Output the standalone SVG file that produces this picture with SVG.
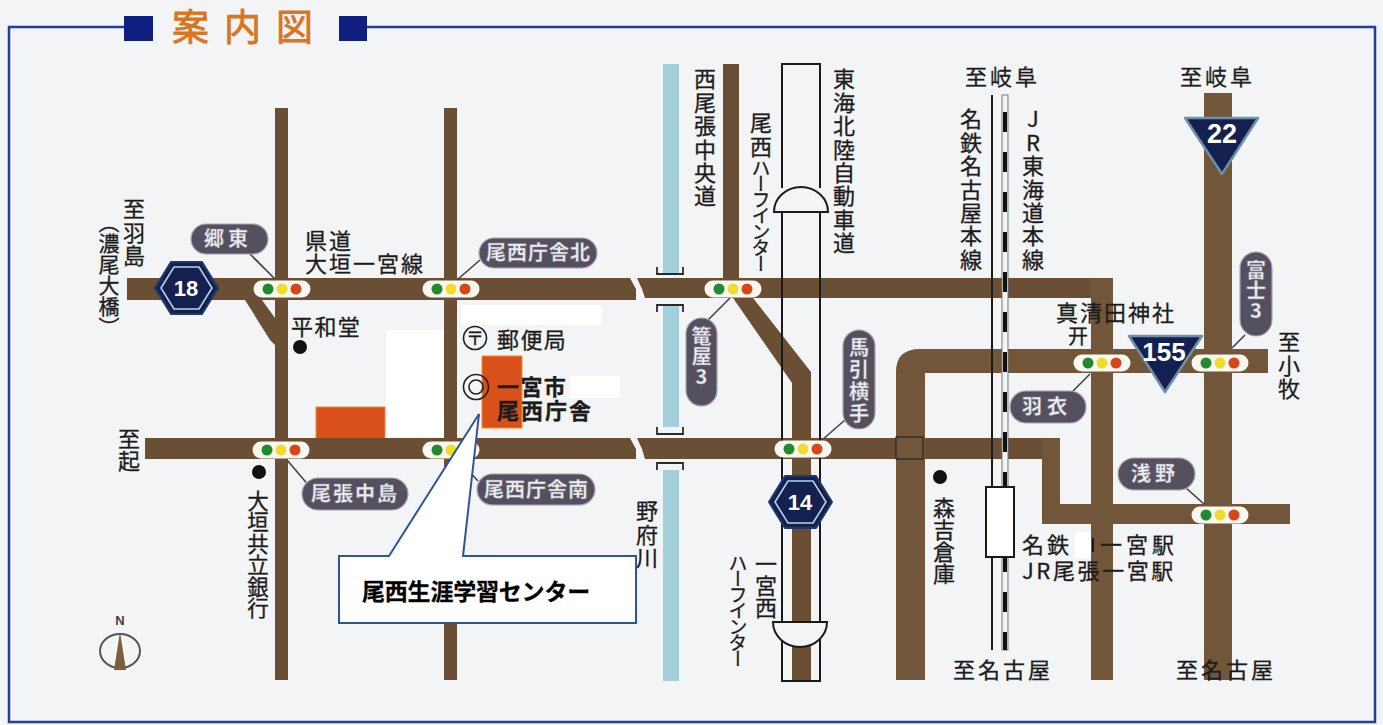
<svg xmlns="http://www.w3.org/2000/svg" width="1383" height="725" viewBox="0 0 1383 725">
<style>
text{font-family:"Noto Sans CJK JP","Noto Sans",sans-serif;fill:#1c1c1c;font-size:22px;stroke:#1c1c1c;stroke-width:.3px}
.v{writing-mode:vertical-rl;text-orientation:mixed}
.u{text-orientation:upright}
.s2{letter-spacing:1.4px}
.road{fill:#6b4f34}
.road2{fill:#725639}
.ll{stroke:#45404a;stroke-width:1.6;fill:none}
.bg{fill:#f3f4f6}
.wh{fill:#fff}
.pill{fill:#fbf8f0}
.g{fill:#1f8a2f}.y{fill:#efdc2c}.r{fill:#d8441c}
.tag{fill:#55505f;stroke:#a9a8ae;stroke-width:1.2}
text.tt{fill:#eeeef2;font-weight:700;font-size:20px;stroke:#8a8792;stroke-width:.4px}
.ex{fill:none;stroke:#1a1a1a;stroke-width:2}
.sh{fill:#14204f;stroke:#6f8fa8;stroke-width:2.5;stroke-linejoin:round}
.hx{fill:#14204f;stroke:#1d3a6a;stroke-width:2;stroke-linejoin:round}
.shin{fill:none;stroke:#b9d2e6;stroke-width:1.6}
text.num{font-family:"Liberation Sans",sans-serif;fill:#fff;stroke:none;font-weight:700;text-anchor:middle}
.fr{fill:none;stroke:#1f3f9a;stroke-width:2.5}
.or{fill:#d9501a;stroke:#e8912f;stroke-width:1}
.bm{fill:none;stroke:#2a2a2a;stroke-width:1.8}
</style>
<defs>
<g id="sig"><rect x="-28.5" y="-8.5" width="57" height="17" rx="8.5" class="pill"/><circle cx="-14" r="5.5" class="g"/><circle r="5.5" class="y"/><circle cx="14" r="5.5" class="r"/></g>
</defs>
<rect width="1383" height="725" class="bg"/>
<g id="frame">
<path class="fr" d="M124 27H9V722H1375V27H367"/>
<rect x="124" y="16" width="29" height="25" fill="#0f1f80"/>
<rect x="339" y="16" width="28" height="25" fill="#0f1f80"/>
<text x="172" y="41" style="font-size:37px;letter-spacing:15px;fill:#d9741f;stroke:#d9741f;stroke-width:.8px">案内図</text>
</g>
<g id="patches">
<rect x="461" y="305" width="141" height="20" class="wh"/>
<rect x="386" y="330" width="58" height="107" class="wh"/>
<rect x="570" y="376" width="50" height="22" class="wh"/>
</g>
<g id="buildings">
<rect x="316" y="407" width="69" height="32" class="or"/>
<rect x="482" y="356" width="40" height="72" class="or"/>
</g>
<g id="river">
<rect x="663" y="64" width="16" height="211" fill="#a3cfdc"/>
<rect x="663" y="304" width="16" height="123" fill="#a3cfdc"/>
<rect x="663" y="470" width="16" height="211" fill="#a3cfdc"/>
<path class="bm" d="M657 267v7h26v-7M657 312v-7h26v7M657 427v7h26v-7M657 470v-7h26v7"/>
</g>
<g id="roads">
<rect x="275" y="108" width="13" height="572" class="road"/>
<rect x="444" y="108" width="13" height="572" class="road"/>
<path class="road" d="M127 278H630L636 289V300H127Z"/>
<path class="road" d="M145 438H630L636 449V459H145Z"/>
<path class="road" d="M245 300H262L275 318V345L270 340Z"/>
<rect x="723" y="64" width="16" height="214" class="road"/>
<path class="road" d="M637 278H1113V298H645L642 289Z"/>
<path class="road" d="M733 298H753L811 372V681H792V383Z"/>
<path class="road" d="M637 438H1060V459H645L642 449Z"/>
<rect x="1091" y="278" width="22" height="402" class="road2"/>
<path class="road2" d="M896 680V372Q896 349 920 349H1268V373H925V680Z"/>
<rect x="1204" y="93" width="28" height="587" class="road2"/>
<path class="road2" d="M1042 438H1060V504H1290V524H1042Z"/>
<rect x="896" y="437" width="27" height="22" fill="none" stroke="#1a1a1a" stroke-width="1"/>
</g>
<g id="expressway">
<path class="ex" d="M782 212V681H820V212M782 188V64H820V188"/>
<path d="M774 212A27 25 0 0 1 828 212Z" fill="#f3f4f6" stroke="#1a1a1a" stroke-width="2"/>
<path d="M773 622H827A27 25 0 0 1 773 622Z" fill="#f3f4f6" stroke="#1a1a1a" stroke-width="2"/>
</g>
<g id="railway">
<line x1="992" y1="95" x2="992" y2="650" stroke="#1a1a1a" stroke-width="2"/>
<rect x="1002" y="95" width="6" height="555" fill="#f4f4f4" stroke="#777" stroke-width="1"/>
<line x1="1005" y1="112" x2="1005" y2="650" stroke="#111" stroke-width="4" stroke-dasharray="20 20"/>
<rect x="986" y="487" width="28" height="70" fill="#fff" stroke="#1a1a1a" stroke-width="2"/>
</g>
<g id="connectors">
<line class="ll" x1="250" y1="254" x2="275" y2="279"/>
<line class="ll" x1="480" y1="260" x2="457" y2="280"/>
<line class="ll" x1="708" y1="320" x2="730" y2="298"/>
<line class="ll" x1="845" y1="420" x2="822" y2="440"/>
<line class="ll" x1="1245" y1="335" x2="1232" y2="348"/>
<line class="ll" x1="1072" y1="392" x2="1090" y2="374"/>
<line class="ll" x1="1186" y1="488" x2="1204" y2="504"/>
<line class="ll" x1="310" y1="487" x2="287" y2="460"/>
<line class="ll" x1="478" y1="481" x2="466" y2="468"/>
</g>
<g id="signals">
<use href="#sig" x="282" y="289"/>
<use href="#sig" x="451" y="289"/>
<use href="#sig" x="733" y="289"/>
<use href="#sig" x="803" y="449"/>
<use href="#sig" x="281" y="450"/>
<use href="#sig" x="451" y="450"/>
<use href="#sig" x="1102" y="363"/>
<use href="#sig" x="1220" y="363"/>
<use href="#sig" x="1220" y="515"/>
</g>
<g id="tag-goto"><rect x="191" y="224" width="77" height="30" rx="15" class="tag"/><text x="204" y="246" class="tt" style="letter-spacing:4px">郷東</text></g>
<g id="tag-bisaikita"><rect x="479" y="238" width="118" height="30" rx="15" class="tag"/><text x="486" y="260" class="tt" style="letter-spacing:1px">尾西庁舎北</text></g>
<g id="tag-kagoya"><rect x="686" y="318" width="31" height="88" rx="15.5" class="tag"/><text x="701.5" y="326" class="tt v">篭屋<tspan class="u">3</tspan></text></g>
<g id="tag-mabiki"><rect x="843" y="330" width="32" height="99" rx="16" class="tag"/><text x="859" y="337" class="tt v" style="letter-spacing:2px">馬引横手</text></g>
<g id="tag-fuji"><rect x="1240" y="252" width="32" height="84" rx="16" class="tag"/><text x="1256" y="260" class="tt v">富士<tspan class="u">3</tspan></text></g>
<g id="tag-hagoromo"><rect x="1010" y="391" width="76" height="32" rx="16" class="tag"/><text x="1022" y="414" class="tt" style="letter-spacing:5px">羽衣</text></g>
<g id="tag-asano"><rect x="1118" y="458" width="77" height="32" rx="16" class="tag"/><text x="1131" y="481" class="tt" style="letter-spacing:4px">浅野</text></g>
<g id="tag-nakajima"><rect x="302" y="478" width="106" height="32" rx="16" class="tag"/><text x="311" y="501" class="tt" style="letter-spacing:2px">尾張中島</text></g>
<g id="tag-bisaiminami"><rect x="477" y="474" width="118" height="31" rx="15.5" class="tag"/><text x="484" y="497" class="tt" style="letter-spacing:1px">尾西庁舎南</text></g>
<g id="route-18"><path class="hx" d="M155 288L171 262H202L218 288L202 314H171Z"/><path class="shin" d="M161 288L174 267H199L212 288L199 309H174Z"/><text x="186" y="296" class="num" style="font-size:22px">18</text></g>
<g id="route-14"><path class="hx" d="M769 502L785 476H816L832 502L816 528H785Z"/><path class="shin" d="M775 502L788 481H813L826 502L813 523H788Z"/><text x="800" y="510" class="num" style="font-size:22px">14</text></g>
<g id="route-22"><path class="sh" d="M1185 118H1258L1222 174Z"/><text x="1222" y="143" class="num" style="font-size:27px">22</text></g>
<g id="route-155"><path class="sh" d="M1129 336H1202L1165 392Z"/><text x="1164" y="361" class="num" style="font-size:26px">155</text></g>
<g id="landmarks">
<circle cx="300" cy="347" r="7" fill="#111"/>
<circle cx="259" cy="472" r="7" fill="#111"/>
<circle cx="940" cy="477" r="7" fill="#111"/>
<circle cx="475" cy="338" r="11.5" fill="none" stroke="#222" stroke-width="1.6"/>
<text x="475" y="345" style="font-size:18px;text-anchor:middle">〒</text>
<circle cx="476" cy="387" r="12.5" fill="none" stroke="#222" stroke-width="1.6"/>
<circle cx="476" cy="387" r="7" fill="none" stroke="#222" stroke-width="1.6"/>
</g>
<g id="labels">
<text x="134" y="198" class="v s2">至羽島</text>
<text x="109" y="212" class="v" style="font-size:21px">（濃尾大橋）</text>
<text x="305" y="249" style="letter-spacing:2px">県道</text>
<text x="305" y="272" style="letter-spacing:2px">大垣一宮線</text>
<text x="291" y="335" class="s2">平和堂</text>
<text x="497" y="348" class="s2">郵便局</text>
<text x="497" y="395" style="font-weight:700;letter-spacing:1.4px">一宮市</text>
<text x="497" y="419" style="font-weight:700;letter-spacing:2px">尾西庁舎</text>
<text x="705" y="68" class="v s2">西尾張中央道</text>
<text x="761" y="112" class="v s2">尾西</text>
<text x="761" y="158" class="v" style="font-size:19px;letter-spacing:-3px">ハーフインター</text>
<text x="844" y="68" class="v s2">東海北陸自動車道</text>
<text x="971" y="108" class="v s2">名鉄名古屋本線</text>
<text x="1033" y="108" class="v s2"><tspan class="u">JR</tspan>東海道本線</text>
<text x="965" y="85" style="letter-spacing:3px">至岐阜</text>
<text x="1180" y="85" style="letter-spacing:3px">至岐阜</text>
<text x="1056" y="321" style="letter-spacing:2px">真清田神社</text>
<text x="1078" y="344" style="font-size:20px;text-anchor:middle">开</text>
<text x="1289" y="331" class="v s2">至小牧</text>
<text x="129" y="428" class="v">至起</text>
<text x="258" y="490" class="v" style="font-size:21.5px">大垣共立銀行</text>
<text x="647" y="500" class="v s2">野府川</text>
<text x="766" y="553" class="v">一宮西</text>
<text x="738" y="553" class="v" style="font-size:19px;letter-spacing:-3px">ハーフインター</text>
<text x="944" y="497" class="v">森吉倉庫</text>
<rect x="1075" y="532" width="16" height="26" class="wh"/>
<rect x="1092" y="538" width="2" height="14" fill="#1c1c1c"/>
<text x="1022" y="553" style="letter-spacing:3px">名鉄</text>
<text x="1100" y="553" style="letter-spacing:4px">一宮駅</text>
<text x="1022" y="579" style="letter-spacing:2.6px">JR尾張一宮駅</text>
<text x="953" y="678" style="letter-spacing:3px">至名古屋</text>
<text x="1176" y="678" style="letter-spacing:3px">至名古屋</text>
</g>
<g id="compass">
<ellipse cx="120" cy="651" rx="20" ry="17" fill="none" stroke="#555" stroke-width="2"/>
<path d="M120 632L126 670H114Z" fill="#7a5f3c"/>
<text x="120" y="625" style="font-family:'Liberation Sans',sans-serif;font-size:13px;font-weight:700;text-anchor:middle;fill:#444;stroke:none">N</text>
</g>
<g id="callout">
<path d="M339 556H389L479 414L463 556H636V623H339Z" fill="#fff" stroke="#2f5597" stroke-width="2"/>
<text x="362" y="600" style="font-weight:700;font-size:23px;fill:#000;letter-spacing:-.2px">尾西生涯学習センター</text>
</g>
</svg>
